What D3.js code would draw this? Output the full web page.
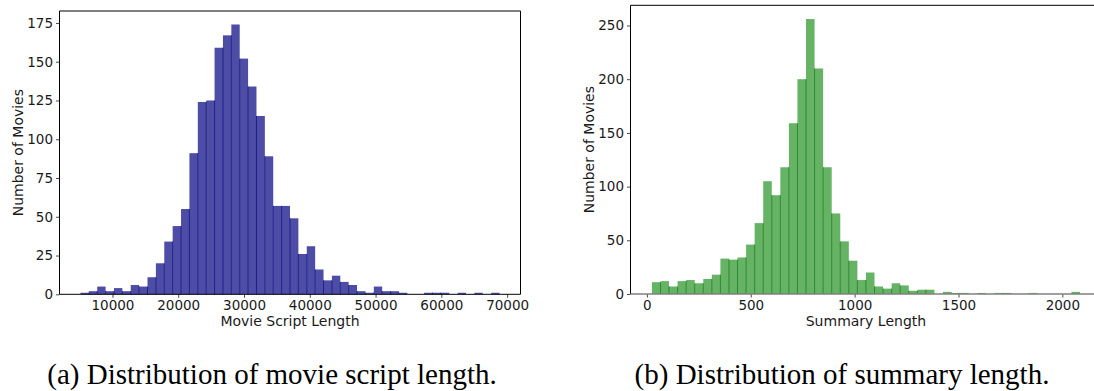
<!DOCTYPE html>
<html>
<head>
<meta charset="utf-8">
<script src="https://cdn.jsdelivr.net/npm/d3@7/dist/d3.min.js"></script>
<style>
  html, body { margin: 0; padding: 0; background: #fff; }
  svg { display: block; }
</style>
</head>
<body>
<div id="chart"></div>
<script>
// ------- data -------
// (a) movie script length histogram: 50 bins
const scriptBinStart = 5135;
const scriptBinWidth = 1274.3;
const scriptCounts = [1,2,5,2,4,2,6,5,11,20, 34,44,55,91,124,125,159,167,174,152,
  134,115,89,57,57,49,26,31,16,9, 12,8,6,2,1,5,2,2,1,0, 0,1,1,1,0,1,0,1,0,1];
const scriptXTicks = [10000,20000,30000,40000,50000,60000,70000];
const scriptYTicks = [0,25,50,75,100,125,150,175];

// (b) summary length histogram: 50 bins
const summaryBinStart = 24;
const summaryBinWidth = 41.22;
const summaryCounts = [11,12,7,12,13,10,14,18,33,32, 34,46,66,105,92,118,159,200,256,210,
  118,75,49,31,13,20,7,5,10,8, 3,4,4,0,2,1,1,0,1,0, 1,1,0,0,1,0,0,0,0,2];
const summaryXTicks = [0,500,1000,1500,2000];
const summaryYTicks = [0,50,100,150,200,250];

const captions = ["(a) Distribution of movie script length.", "(b) Distribution of summary length."];

// ------- drawing -------
const W = 1094, H = 391;
const FONT = "DejaVu Sans";
const svg = d3.select("#chart").append("svg")
  .attr("width", W).attr("height", H)
  .attr("viewBox", `0 0 ${W} ${H}`);

function hist(cfg) {
  const bins = cfg.counts.map((c, i) => ({
    x0: cfg.start + i * cfg.width,
    x1: cfg.start + (i + 1) * cfg.width,
    n: c
  }));
  const lo = bins[0].x0, hi = bins[bins.length - 1].x1;
  const pad = (hi - lo) * 0.05;
  const x = d3.scaleLinear().domain([lo - pad, hi + pad]).range([cfg.left, cfg.right]);
  const y = d3.scaleLinear().domain([0, d3.max(cfg.counts) * 1.05]).range([cfg.bottom, cfg.top]);

  const g = svg.append("g");

  g.selectAll("rect.bar")
    .data(bins.filter(b => b.n > 0))
    .enter().append("rect")
    .attr("class", "bar")
    .attr("x", d => x(d.x0))
    .attr("width", d => x(d.x1) - x(d.x0))
    .attr("y", d => y(d.n))
    .attr("height", d => y(0) - y(d.n))
    .attr("fill", cfg.fill);

  // shared edges between neighbouring bars
  const edges = bins.slice(1).map((b, i) => ({ x: b.x0, n: Math.min(b.n, bins[i].n) }))
    .filter(e => e.n > 0);
  g.selectAll("line.edge")
    .data(edges)
    .enter().append("line")
    .attr("class", "edge")
    .attr("x1", d => x(d.x)).attr("x2", d => x(d.x))
    .attr("y1", y(0)).attr("y2", d => y(d.n))
    .attr("stroke", cfg.edge)
    .attr("stroke-width", 1);

  const xAxis = g.append("g")
    .attr("transform", `translate(0,${cfg.bottom})`)
    .call(d3.axisBottom(x).tickValues(cfg.xTicks).tickSize(3.5).tickPadding(2.5).tickFormat(d3.format("d")));
  xAxis.select(".domain").remove();

  const yAxis = g.append("g")
    .attr("transform", `translate(${cfg.left},0)`)
    .call(d3.axisLeft(y).tickValues(cfg.yTicks).tickSize(3.5).tickPadding(3).tickFormat(d3.format("d")));
  yAxis.select(".domain").remove();

  g.selectAll(".tick text")
    .attr("fill", "#1a1a1a")
    .style("font-family", FONT)
    .style("font-size", "13.5px");
  g.selectAll(".tick line").attr("stroke", "#1a1a1a").attr("stroke-width", 0.8);

  // spines
  g.append("path")
    .attr("d", `M${cfg.left},${cfg.bottom}V${cfg.top}H${cfg.right}V${cfg.bottom}`)
    .attr("fill", "none").attr("stroke", "#000").attr("stroke-width", 1);
  g.append("line")
    .attr("x1", cfg.left).attr("x2", cfg.right)
    .attr("y1", cfg.bottom).attr("y2", cfg.bottom)
    .attr("stroke", cfg.baseColor).attr("stroke-width", cfg.baseWidth);

  // axis labels
  g.append("text")
    .attr("x", (cfg.left + cfg.right) / 2).attr("y", 326)
    .attr("text-anchor", "middle")
    .attr("fill", "#1a1a1a")
    .style("font-family", FONT).style("font-size", "14px")
    .text(cfg.xLabel);

  g.append("text")
    .attr("transform", `translate(${cfg.ylabelX},${(cfg.top + cfg.bottom) / 2}) rotate(-90)`)
    .attr("text-anchor", "middle")
    .attr("fill", "#1a1a1a")
    .style("font-family", FONT).style("font-size", "14px")
    .text("Number of Movies");
}

hist({
  counts: scriptCounts, start: scriptBinStart, width: scriptBinWidth,
  xTicks: scriptXTicks, yTicks: scriptYTicks,
  left: 59.5, right: 520.5, top: 11, bottom: 294.3,
  fill: "#4d4da6", edge: "#1f1f8c", baseColor: "#000", baseWidth: 1,
  xLabel: "Movie Script Length", ylabelX: 23
});

hist({
  counts: summaryCounts, start: summaryBinStart, width: summaryBinWidth,
  xTicks: summaryXTicks, yTicks: summaryYTicks,
  left: 630.5, right: 1101.4, top: 5.3, bottom: 294,
  fill: "#66b366", edge: "#2a8a2a", baseColor: "#7f7f7f", baseWidth: 1.6,
  xLabel: "Summary Length", ylabelX: 594
});

// captions
svg.selectAll("text.caption")
  .data(captions)
  .enter().append("text")
  .attr("class", "caption")
  .attr("x", (d, i) => i === 0 ? 272 : 842)
  .attr("y", 384)
  .attr("text-anchor", "middle")
  .attr("fill", "#000")
  .style("font-family", "Liberation Serif")
  .style("font-size", "29px")
  .text(d => d);
</script>
</body>
</html>
